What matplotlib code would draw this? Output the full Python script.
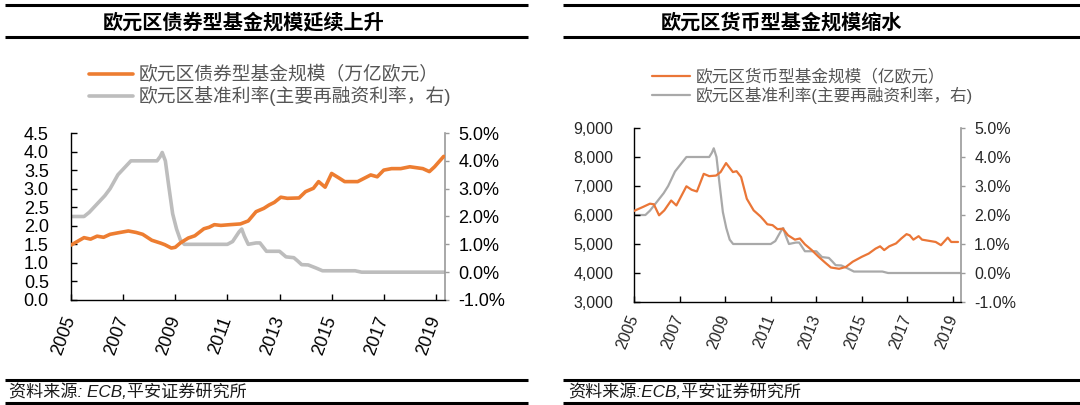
import matplotlib
matplotlib.use('Agg')
import matplotlib.pyplot as plt
from matplotlib.lines import Line2D
from matplotlib.ticker import FuncFormatter

plt.rcParams['font.family'] = ['Liberation Sans', 'Noto Sans CJK SC']

# ---------------- data ----------------
bond_years = [2005.0, 2005.5, 2005.75, 2006.0, 2006.25, 2006.5, 2006.8, 2007.2, 2007.5,
              2007.75, 2008.1, 2008.45, 2008.6, 2008.85, 2009.0, 2009.2, 2009.5, 2009.75,
              2010.1, 2010.3, 2010.5, 2010.75, 2011.1, 2011.5, 2011.8, 2012.1, 2012.4,
              2012.6, 2012.8, 2013.05, 2013.3, 2013.75, 2014.0, 2014.3, 2014.5, 2014.75,
              2015.0, 2015.3, 2015.5, 2016.0, 2016.5, 2016.75, 2017.0, 2017.3, 2017.65,
              2018.0, 2018.3, 2018.5, 2018.75, 2018.95, 2019.3]
bond_vals = [1.48, 1.68, 1.64, 1.72, 1.69, 1.77, 1.81, 1.86, 1.82,
             1.77, 1.61, 1.53, 1.49, 1.40, 1.42, 1.54, 1.67, 1.73,
             1.92, 1.96, 2.03, 2.01, 2.03, 2.05, 2.13, 2.38, 2.47,
             2.56, 2.63, 2.77, 2.74, 2.75, 2.92, 3.01, 3.19, 3.04,
             3.41, 3.28, 3.19, 3.19, 3.37, 3.32, 3.50, 3.54, 3.54,
             3.59, 3.56, 3.54, 3.46, 3.59, 3.87]

mmf_years = [2005.0, 2005.4, 2005.7, 2005.87, 2006.1, 2006.33, 2006.63, 2006.86, 2007.3,
             2007.53, 2007.76, 2008.06, 2008.3, 2008.6, 2008.8, 2009.04, 2009.34, 2009.5,
             2009.7, 2009.95, 2010.25, 2010.55, 2010.7, 2010.85, 2011.08, 2011.3, 2011.53,
             2011.76, 2012.06, 2012.28, 2012.5, 2012.8, 2013.1, 2013.4, 2013.64, 2014.0,
             2014.3, 2014.6, 2015.0, 2015.3, 2015.6, 2015.8, 2015.98, 2016.2, 2016.5,
             2016.73, 2016.96, 2017.1, 2017.26, 2017.49, 2017.64, 2017.94, 2018.24, 2018.47,
             2018.77, 2018.92, 2019.22]
mmf_vals = [6140, 6280, 6390, 6370, 5990, 6160, 6500, 6330, 6990,
            6870, 6810, 7420, 7340, 7360, 7480, 7790, 7480, 7510,
            7310, 6560, 6160, 5950, 5820, 5680, 5650, 5510, 5530,
            5300, 5150, 5190, 4990, 4790, 4560, 4350, 4190, 4145,
            4210, 4390, 4560, 4670, 4840, 4920, 4790, 4920, 5020,
            5190, 5340, 5300, 5150, 5270, 5150, 5110, 5070, 4960,
            5220, 5070, 5070]

rate_years = [2005.0, 2005.5, 2005.7, 2006.0, 2006.3, 2006.5, 2006.8, 2007.1, 2007.3,
              2007.6, 2008.0, 2008.3, 2008.42, 2008.5, 2008.62, 2008.75, 2008.9, 2009.05,
              2009.2, 2009.35, 2010.0, 2011.0, 2011.2, 2011.45, 2011.55, 2011.65, 2011.8,
              2012.1, 2012.25, 2012.5, 2013.0, 2013.25, 2013.55, 2013.7, 2013.85, 2014.1,
              2014.4, 2014.65, 2015.0, 2015.9, 2016.15, 2019.35]
rate_vals = [2.0, 2.0, 2.15, 2.45, 2.75, 3.0, 3.5, 3.8, 4.0,
             4.0, 4.0, 4.0, 4.15, 4.3, 4.0, 3.1, 2.1, 1.55,
             1.15, 1.0, 1.0, 1.0, 1.1, 1.45, 1.55, 1.3, 1.0,
             1.05, 1.05, 0.75, 0.75, 0.55, 0.52, 0.4, 0.27, 0.26,
             0.15, 0.05, 0.05, 0.05, 0.0, 0.0]

year_ticks = [2005, 2007, 2009, 2011, 2013, 2015, 2017, 2019]
bond_ticks = [0.0, 0.5, 1.0, 1.5, 2.0, 2.5, 3.0, 3.5, 4.0, 4.5]
mmf_ticks = [3000, 4000, 5000, 6000, 7000, 8000, 9000]
rate_ticks = [-1.0, 0.0, 1.0, 2.0, 3.0, 4.0, 5.0]

title_left = '欧元区债券型基金规模延续上升'
title_right = '欧元区货币型基金规模缩水'
leg_bond = '欧元区债券型基金规模（万亿欧元）'
leg_mmf = '欧元区货币型基金规模（亿欧元）'
leg_rate = '欧元区基准利率(主要再融资利率，右)'
src_left = '资料来源: ECB,平安证券研究所'
src_right = '资料来源:ECB,平安证券研究所'

# ---------------- layout ----------------
W, H = 1080, 405
fig = plt.figure(figsize=(W / 100, H / 100), dpi=100)


def fx(px):
    return px / W


def fy(py):
    return 1 - py / H


def hline(x0, x1, y, lw=2.2):
    fig.add_artist(Line2D([fx(x0), fx(x1)], [fy(y), fy(y)], transform=fig.transFigure,
                          color='black', lw=lw, solid_capstyle='butt'))


def panel(rect, years, vals, ylim, yticks, yfmt, color, gray, lw, fs_y, fs_x, rot,
          xpad, ypad, txtcolor):
    x0, y0, x1, y1 = rect
    ax = fig.add_axes([fx(x0), fy(y1), fx(x1) - fx(x0), fy(y0) - fy(y1)])
    axr = ax.twinx()
    l1, = ax.plot(years, vals, color=color, lw=lw, solid_joinstyle='round', solid_capstyle='round', zorder=3)
    l2, = axr.plot(rate_years, rate_vals, color=gray, lw=lw, solid_joinstyle='round', solid_capstyle='round')
    ax.set_zorder(axr.get_zorder() + 1)
    ax.patch.set_visible(False)
    ax.set_xlim(2005, 2019.35)
    ax.set_ylim(*ylim)
    axr.set_ylim(-1, 5)
    ax.set_yticks(yticks)
    ax.yaxis.set_major_formatter(FuncFormatter(yfmt))
    axr.set_yticks(rate_ticks)
    axr.yaxis.set_major_formatter(FuncFormatter(lambda v, p: f'{v:.1f}%'))
    ax.set_xticks(year_ticks)
    ax.set_xticklabels([str(y) for y in year_ticks], rotation=rot, ha='right',
                       va='center', rotation_mode='anchor')
    for s in ['top', 'right']:
        ax.spines[s].set_visible(False)
    for s in ['top', 'left', 'bottom']:
        axr.spines[s].set_visible(False)
    ax.spines['left'].set_color('black')
    ax.spines['bottom'].set_color('black')
    ax.spines['left'].set_linewidth(1.0)
    ax.spines['bottom'].set_linewidth(1.0)
    axr.spines['right'].set_color('#9a9a9a')
    axr.spines['right'].set_linewidth(1.2)
    ax.tick_params(axis='y', direction='in', length=4, width=1.0, labelsize=fs_y,
                   pad=ypad, colors='black', labelcolor=txtcolor)
    ax.tick_params(axis='x', direction='in', length=4, width=1.0, labelsize=fs_x,
                   pad=xpad, labelcolor=txtcolor)
    axr.tick_params(axis='y', direction='out', length=3, width=1.0, labelsize=fs_y,
                    pad=6.5, color='#9a9a9a', labelcolor=txtcolor)
    return ax, l1, l2


# left panel
axL, b1, b2 = panel((71, 133, 445, 300), bond_years, bond_vals, (0, 4.5), bond_ticks,
                    lambda v, p: f'{v:.1f}', '#ED7D31', '#BDBDBD', 2.6, 13, 13, 70,
                    12, 16, 'black')
# right panel
axR, m1, m2 = panel((634, 128, 961, 302), mmf_years, mmf_vals, (3000, 9000), mmf_ticks,
                    lambda v, p: f'{int(v):,}', '#EA7637', '#A9A9A9', 1.6, 11.5, 11.5, 68,
                    10, 15, '#262626')

# legends
fig.legend([b1, b2], [leg_bond, leg_rate], loc='upper left', bbox_to_anchor=(fx(89), fy(66)),
           frameon=False, fontsize=13.5, handlelength=2.35, handletextpad=0.27,
           labelspacing=0.12, borderpad=0, borderaxespad=0, labelcolor='#555555')
fig.legend([m1, m2], [leg_mmf, leg_rate], loc='upper left', bbox_to_anchor=(fx(652), fy(69)),
           frameon=False, fontsize=12, handlelength=2.3, handletextpad=0.3,
           labelspacing=0.1, borderpad=0, borderaxespad=0, labelcolor='#555555')

# titles and rules
hline(5, 528, 5)
hline(5, 528, 36.5)
hline(563, 1080, 5)
hline(563, 1080, 36.5)
fig.text(fx(244), fy(22.5), title_left, ha='center', va='center', fontsize=14.5,
         fontweight='bold', color='black')
fig.text(fx(781), fy(22.5), title_right, ha='center', va='center', fontsize=14.5,
         fontweight='bold', color='black')

# sources
hline(5, 528, 380)
hline(5, 528, 403)
hline(563, 1080, 380)
hline(563, 1080, 403)
fig.text(fx(9), fy(392), src_left, ha='left', va='center', fontsize=12.3, style='italic',
         color='#1a1a1a')
fig.text(fx(568), fy(392), src_right, ha='left', va='center', fontsize=12.3, style='italic',
         color='#1a1a1a')

fig.savefig('out.png', dpi=100)
